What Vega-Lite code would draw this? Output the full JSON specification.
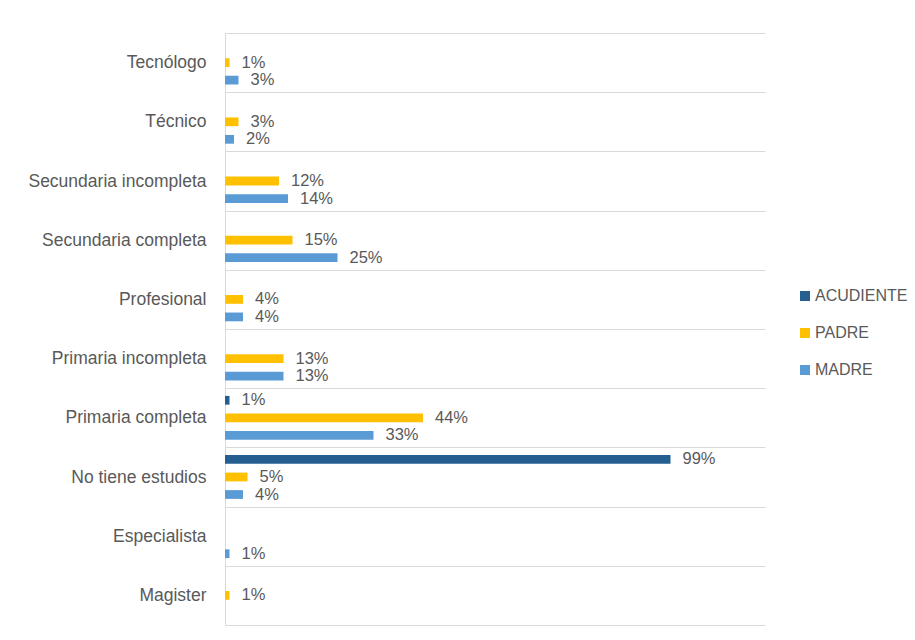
{
  "$schema": "https://vega.github.io/schema/vega-lite/v6.json",
  "width": 540,
  "height": 592,
  "autosize": {"type": "none"},
  "padding": {"left": 225, "top": 33, "right": 150, "bottom": 15},
  "background": "white",
  "config": {"view": {"stroke": null}, "font": "Liberation Sans"},
  "data": {
    "values": [
      {"nivel": "Tecnólogo", "grupo": "PADRE", "valor": 0.01},
      {"nivel": "Tecnólogo", "grupo": "MADRE", "valor": 0.03},
      {"nivel": "Técnico", "grupo": "PADRE", "valor": 0.03},
      {"nivel": "Técnico", "grupo": "MADRE", "valor": 0.02},
      {"nivel": "Secundaria incompleta", "grupo": "PADRE", "valor": 0.12},
      {"nivel": "Secundaria incompleta", "grupo": "MADRE", "valor": 0.14},
      {"nivel": "Secundaria completa", "grupo": "PADRE", "valor": 0.15},
      {"nivel": "Secundaria completa", "grupo": "MADRE", "valor": 0.25},
      {"nivel": "Profesional", "grupo": "PADRE", "valor": 0.04},
      {"nivel": "Profesional", "grupo": "MADRE", "valor": 0.04},
      {"nivel": "Primaria incompleta", "grupo": "PADRE", "valor": 0.13},
      {"nivel": "Primaria incompleta", "grupo": "MADRE", "valor": 0.13},
      {"nivel": "Primaria completa", "grupo": "ACUDIENTE", "valor": 0.01},
      {"nivel": "Primaria completa", "grupo": "PADRE", "valor": 0.44},
      {"nivel": "Primaria completa", "grupo": "MADRE", "valor": 0.33},
      {"nivel": "No tiene estudios", "grupo": "ACUDIENTE", "valor": 0.99},
      {"nivel": "No tiene estudios", "grupo": "PADRE", "valor": 0.05},
      {"nivel": "No tiene estudios", "grupo": "MADRE", "valor": 0.04},
      {"nivel": "Especialista", "grupo": "MADRE", "valor": 0.01},
      {"nivel": "Magister", "grupo": "PADRE", "valor": 0.01}
    ]
  },
  "encoding": {
    "y": {
      "field": "nivel",
      "type": "nominal",
      "sort": ["Tecnólogo", "Técnico", "Secundaria incompleta", "Secundaria completa", "Profesional", "Primaria incompleta", "Primaria completa", "No tiene estudios", "Especialista", "Magister"],
      "scale": {"paddingInner": 0, "paddingOuter": 0},
      "axis": {
        "title": null,
        "ticks": false,
        "grid": true,
        "tickBand": "extent",
        "gridColor": "#d9d9d9",
        "domainColor": "#d9d9d9",
        "labelColor": "#595959",
        "labelFontSize": 17.5,
        "labelPadding": 19,
        "labelFont": "Liberation Sans"
      }
    },
    "yOffset": {
      "field": "grupo",
      "type": "nominal",
      "scale": {"domain": ["ACUDIENTE", "PADRE", "MADRE"], "paddingInner": 0.5, "paddingOuter": 0.44}
    },
    "x": {
      "field": "valor",
      "type": "quantitative",
      "scale": {"domain": [0, 1.2], "nice": false},
      "axis": null
    }
  },
  "layer": [
    {
      "mark": {"type": "bar"},
      "encoding": {
        "color": {
          "field": "grupo",
          "type": "nominal",
          "scale": {"domain": ["ACUDIENTE", "PADRE", "MADRE"], "range": ["#255E91", "#FFC000", "#5B9BD5"]},
          "legend": {
            "title": null,
            "orient": "none",
            "legendX": 572,
            "legendY": 255,
            "padding": 0,
            "symbolType": "square",
            "symbolSize": 100,
            "symbolStrokeWidth": 0,
            "labelFontSize": 16,
            "labelColor": "#595959",
            "labelOffset": 2,
            "rowPadding": 21
          }
        }
      }
    },
    {
      "mark": {"type": "text", "align": "left", "baseline": "middle", "dx": 12, "fontSize": 16.5, "color": "#595959"},
      "encoding": {
        "text": {"field": "valor", "type": "quantitative", "format": ".0%"}
      }
    }
  ]
}
